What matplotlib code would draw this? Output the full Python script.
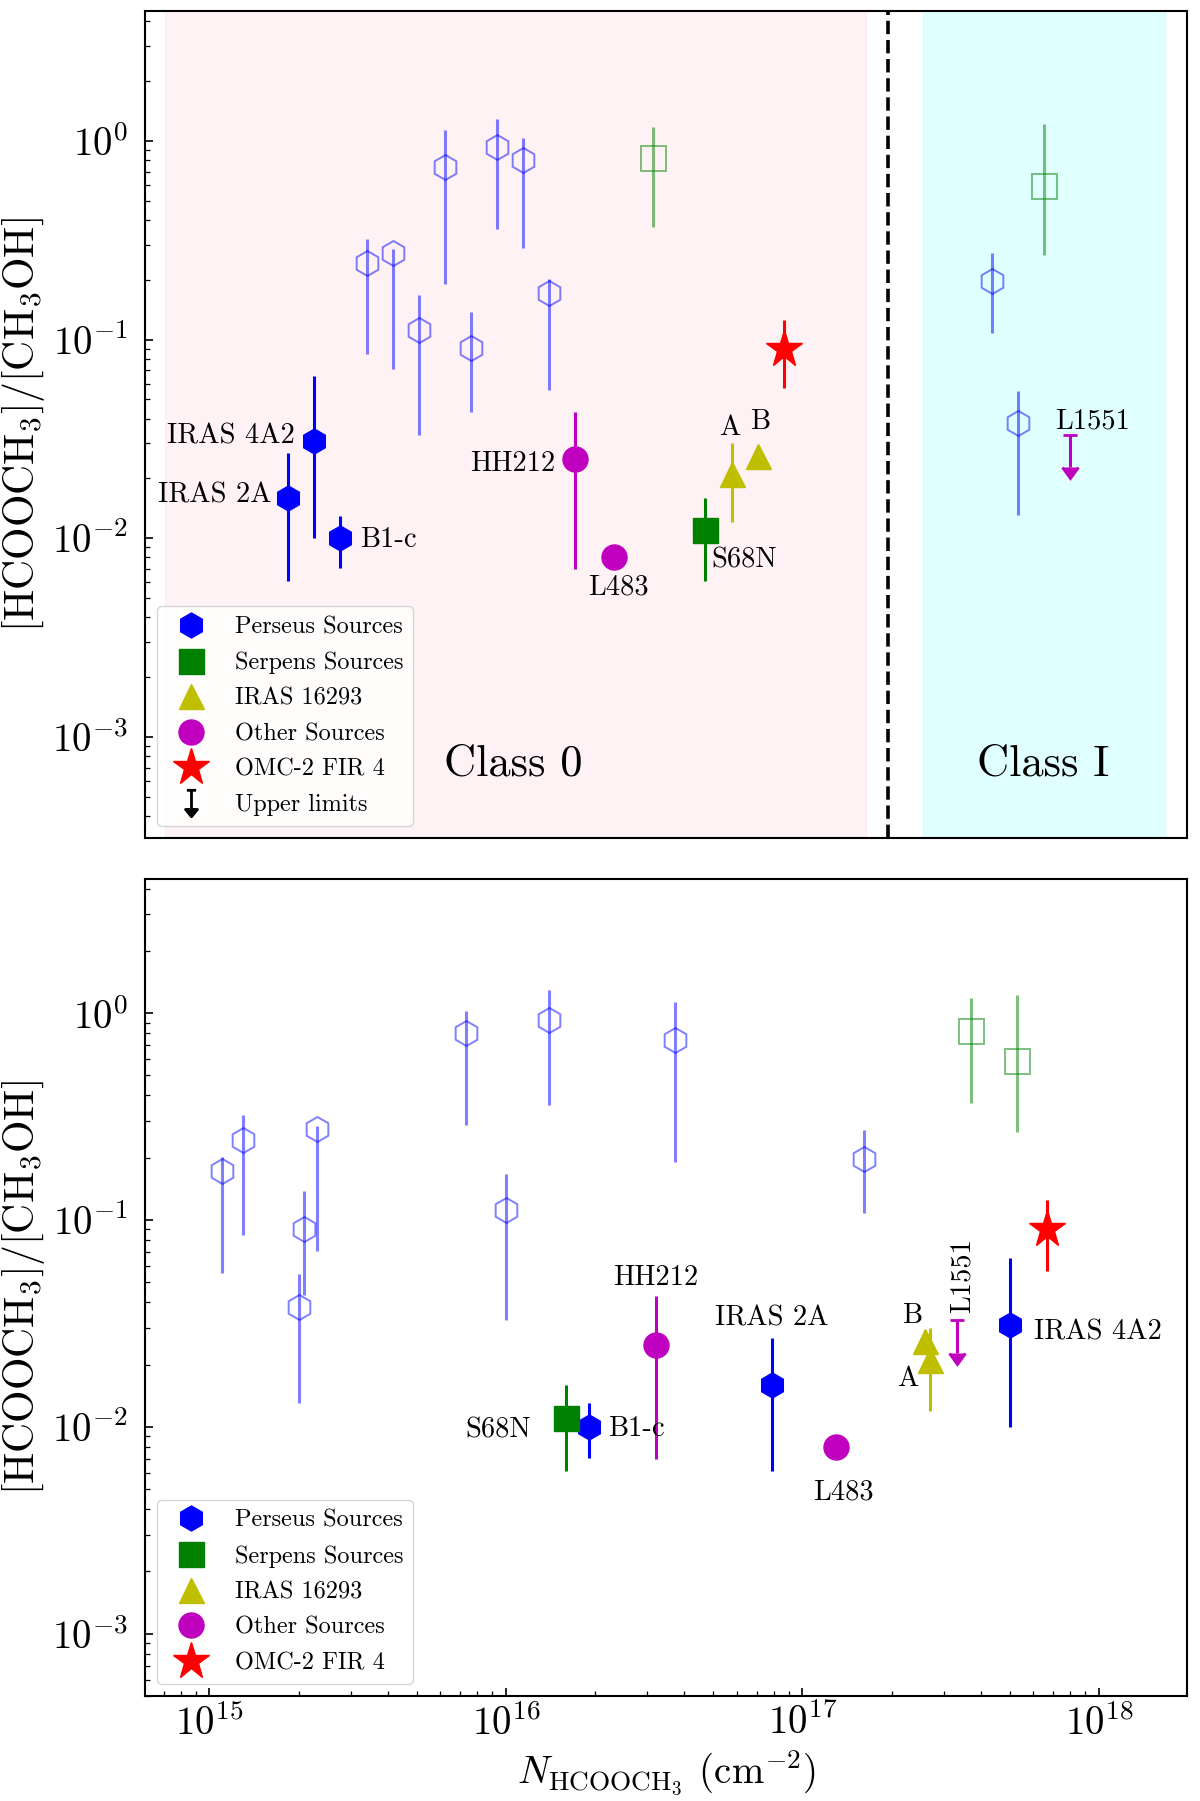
import numpy as np
import matplotlib
matplotlib.use('Agg')
import matplotlib.pyplot as plt
from matplotlib.lines import Line2D
from matplotlib.path import Path

plt.rcParams['font.family'] = 'serif'
plt.rcParams['font.serif'] = ['cmr10']
plt.rcParams['mathtext.fontset'] = 'cm'
plt.rcParams['axes.formatter.use_mathtext'] = True
plt.rcParams['axes.unicode_minus'] = False

# =====================================
# DATA
# pos = slot in the top (by class) panel, N = column density for the bottom panel
# =====================================

perseus_names = ['IRAS 2A', 'IRAS 4A2', 'B1-c']
perseus_pos = [0, 1, 2]
perseus_N = [7.9e16, 5.0e17, 1.9e16]
perseus_ratio = [0.016, 0.031, 0.0100]
perseus_lo = [0.0061, 0.0100, 0.0071]
perseus_hi = [0.0269, 0.0658, 0.0130]

perseus_lit_pos = [3, 4, 5, 6, 7, 8, 9, 10, 27, 28]
perseus_lit_N = [1.30e15, 2.30e15, 1.00e16, 3.72e16, 2.09e15, 1.40e16, 7.31e15, 1.10e15, 1.61e17, 2.00e15]
perseus_lit_ratio = [0.244, 0.274, 0.112, 0.739, 0.091, 0.932, 0.800, 0.172, 0.198, 0.038]
perseus_lit_lo = [0.085, 0.071, 0.033, 0.19, 0.0433, 0.358, 0.288, 0.0556, 0.108, 0.0131]
perseus_lit_hi = [0.322, 0.285, 0.167, 1.13, 0.138, 1.29, 1.03, 0.202, 0.272, 0.055]

serpens_names = ['S68N']
serpens_pos = [16]
serpens_N = [1.60e16]
serpens_ratio = [0.011]
serpens_lo = [0.0061]
serpens_hi = [0.0159]

serpens_lit_pos = [14, 29]
serpens_lit_N = [3.69e17, 5.31e17]
serpens_lit_ratio = [0.821, 0.59]
serpens_lit_lo = [0.3666, 0.266]
serpens_lit_hi = [1.18, 1.22]

iras_names = ['A', 'B']
iras_pos = [17, 18]
iras_N = [2.69e17, 2.60e17]
iras_ratio = [0.021, 0.026]
iras_lo = [0.012, 0.026]
iras_hi = [0.030, 0.026]

other_names = ['HH212', 'L483']
other_pos = [11, 12.5]
other_N = [3.2e16, 1.30e17]
other_ratio = [0.025, 0.008]
other_lo = [0.007, 0.008]
other_hi = [0.043, 0.008]

omc_pos = [19]
omc_N = [6.67e17]
omc_ratio = [0.090]
omc_lo = [0.057]
omc_hi = [0.125]

ulim_names = ['L1551']
ulim_pos = [30]
ulim_N = [3.31e17]
ulim_ratio = [0.033]
ulim_lo = [0.0228]

legend_labels = ['Perseus Sources', 'Serpens Sources', 'IRAS 16293',
                 'Other Sources', 'OMC-2 FIR 4', 'Upper limits']

# label placement (ha, dx, dy in pixels, rotation) for each panel
top_text = {
    'IRAS 4A2': ('right', -20, -3, 0), 'IRAS 2A': ('right', -17, -5, 0),
    'B1-c': ('left', 20, -9, 0), 'HH212': ('right', -20, -12, 0),
    'L483': ('center', 4, -37, 0), 'S68N': ('left', 6, -38, 0),
    'A': ('center', -2, 39, 0), 'B': ('center', 3, 27, 0),
    'L1551': ('center', 22, 7, 0),
}
bottom_text = {
    'IRAS 4A2': ('left', 24, -14, 0), 'IRAS 2A': ('center', 0, 59, 0),
    'B1-c': ('left', 19, -9, 0), 'HH212': ('center', 0, 60, 0),
    'L483': ('center', 7, -53, 0), 'S68N': ('right', -35, -19, 0),
    'A': ('center', -22, -26, 0), 'B': ('center', -13, 18, 0),
    'L1551': ('left', 13, 7, 90),
}


def yerr(r, lo, hi):
    r, lo, hi = np.array(r), np.array(lo), np.array(hi)
    return [r - lo, hi - r]


def draw_panel(ax, key, texts):
    X = {
        'per': perseus_pos if key == 'pos' else perseus_N,
        'perl': perseus_lit_pos if key == 'pos' else perseus_lit_N,
        'ser': serpens_pos if key == 'pos' else serpens_N,
        'serl': serpens_lit_pos if key == 'pos' else serpens_lit_N,
        'iras': iras_pos if key == 'pos' else iras_N,
        'oth': other_pos if key == 'pos' else other_N,
        'omc': omc_pos if key == 'pos' else omc_N,
        'ul': ulim_pos if key == 'pos' else ulim_N,
    }
    eb = dict(elinewidth=2.2, capsize=0, ls='none')

    ax.errorbar(X['perl'], perseus_lit_ratio, yerr=yerr(perseus_lit_ratio, perseus_lit_lo, perseus_lit_hi),
                fmt='h', ms=18, mfc='none', mec='b', mew=1.4, ecolor='b', alpha=0.5, **eb)
    ax.errorbar(X['serl'], serpens_lit_ratio, yerr=yerr(serpens_lit_ratio, serpens_lit_lo, serpens_lit_hi),
                fmt='s', ms=18, mfc='none', mec='g', mew=1.4, ecolor='g', alpha=0.5, **eb)
    ax.errorbar(X['per'], perseus_ratio, yerr=yerr(perseus_ratio, perseus_lo, perseus_hi),
                fmt='h', ms=18, color='b', **eb)
    ax.errorbar(X['ser'], serpens_ratio, yerr=yerr(serpens_ratio, serpens_lo, serpens_hi),
                fmt='s', ms=18, color='g', **eb)
    ax.errorbar(X['iras'], iras_ratio, yerr=yerr(iras_ratio, iras_lo, iras_hi),
                fmt='^', ms=18, color='y', **eb)
    ax.errorbar(X['oth'], other_ratio, yerr=yerr(other_ratio, other_lo, other_hi),
                fmt='o', ms=18, color='m', **eb)
    ax.errorbar(X['omc'], omc_ratio, yerr=yerr(omc_ratio, omc_lo, omc_hi),
                fmt='*', ms=28, color='r', **eb)
    ul = np.array(ulim_ratio) - np.array(ulim_lo)
    _, caps, _ = ax.errorbar(X['ul'], ulim_ratio, yerr=ul, uplims=True, fmt='none', color='m',
                             ecolor='m', elinewidth=2.2, capsize=5, capthick=2)
    for c in caps:
        c.set_color('m')
        if c.get_marker() != '_':
            c.set_markersize(11)

    named = [(perseus_names, X['per'], perseus_ratio), (serpens_names, X['ser'], serpens_ratio),
             (iras_names, X['iras'], iras_ratio), (other_names, X['oth'], other_ratio),
             (ulim_names, X['ul'], ulim_ratio)]
    for names, xs, ys in named:
        for n, x, y in zip(names, xs, ys):
            ha, dx, dy, rot = texts[n]
            ax.annotate(n, (x, y), xytext=(dx, dy), textcoords='offset pixels',
                        ha=ha, va='baseline', fontsize=20.5, rotation=rot,
                        rotation_mode='anchor')

    ax.set_yscale('log')
    ax.set_ylabel(r'[HCOOCH$_3$]/[CH$_3$OH]', fontsize=30)
    ax.tick_params(which='both', direction='in', labelsize=28)
    ax.tick_params(which='major', length=6, width=1.2)
    ax.tick_params(which='minor', length=3.5, width=0.9)
    ax.tick_params(axis='y', pad=12)
    for s in ax.spines.values():
        s.set_linewidth(1.5)


# upper-limit legend glyph: cap, stem, arrow head
ul_path = Path([(-0.35, 1), (0.35, 1), (0, 1), (0, -0.45), (-0.45, -0.45), (0.45, -0.45), (0, -1), (-0.45, -0.45)],
               [Path.MOVETO, Path.LINETO, Path.MOVETO, Path.LINETO,
                Path.MOVETO, Path.LINETO, Path.LINETO, Path.CLOSEPOLY])


def legend_handles(with_ul):
    h = [Line2D([], [], ls='none', marker='h', ms=18, color='b'),
         Line2D([], [], ls='none', marker='s', ms=18, color='g'),
         Line2D([], [], ls='none', marker='^', ms=18, color='y'),
         Line2D([], [], ls='none', marker='o', ms=18, color='m'),
         Line2D([], [], ls='none', marker='*', ms=28, color='r')]
    if with_ul:
        h.append(Line2D([], [], ls='none', marker=ul_path, ms=19, color='k', mew=2))
    return h


fig = plt.figure(figsize=(12, 18.01), dpi=100)
ax1 = fig.add_axes([0.1208, 0.5347, 0.8683, 0.4592])
ax2 = fig.add_axes([0.1208, 0.0583, 0.8683, 0.4536])

# ===== top panel: sources grouped by class =====
draw_panel(ax1, 'pos', top_text)
ax1.axvspan(-4.72, 22.16, color='pink', alpha=0.2)
ax1.axvspan(24.33, 33.63, color='cyan', alpha=0.12)
ax1.axvline(23, color='k', ls='--', lw=2.6)
ax1.text(8.62, 6.4e-4, 'Class 0', fontsize=32, ha='center', va='baseline')
ax1.text(28.96, 6.4e-4, 'Class I', fontsize=32, ha='center', va='baseline')
ax1.set_xlim(-5.5, 34.47)
ax1.set_ylim(3.1e-4, 4.5)
ax1.set_xticks([])
ax1.legend(legend_handles(True), legend_labels, loc='lower left', fontsize=17.5,
           numpoints=1, labelspacing=0.55)

# ===== bottom panel: against column density =====
draw_panel(ax2, 'N', bottom_text)
ax2.set_xscale('log')
ax2.set_xlim(6.06e14, 1.98e18)
ax2.set_ylim(5.0e-4, 4.45)
ax2.tick_params(axis='x', pad=6)
ax2.set_xlabel(r'$N_{\rm HCOOCH_3}$ (cm$^{-2}$)', fontsize=28)
ax2.legend(legend_handles(False), legend_labels[:5], loc='lower left', fontsize=17.5,
           numpoints=1, labelspacing=0.55)

fig.savefig('out.png', dpi=100)
